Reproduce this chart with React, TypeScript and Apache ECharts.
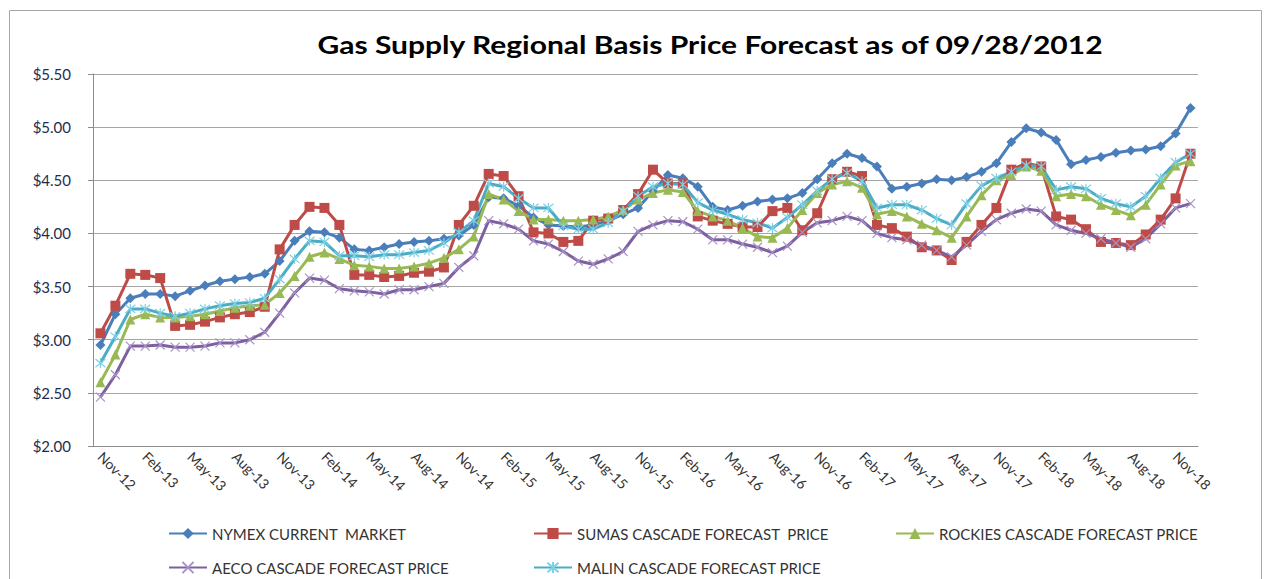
import React, { useEffect, useRef } from "react";
import * as echarts from "echarts";

const MONTHS = ["Jan", "Feb", "Mar", "Apr", "May", "Jun", "Jul", "Aug", "Sep", "Oct", "Nov", "Dec"];
// Nov-12 .. Dec-18 (74 months)
const categories: string[] = [];
for (let k = 0; k < 74; k++) {
  const m = (10 + k) % 12;
  const y = 12 + Math.floor((10 + k) / 12);
  categories.push(`${MONTHS[m]}-${y}`);
}

const nymex = [
  2.95, 3.24, 3.39, 3.43, 3.43, 3.41, 3.46, 3.51, 3.55, 3.57, 3.59, 3.62,
  3.74, 3.93, 4.02, 4.01, 3.96, 3.85, 3.84, 3.87, 3.9, 3.92, 3.93, 3.95,
  3.98, 4.08, 4.34, 4.33, 4.26, 4.15, 4.08, 4.07, 4.06, 4.08, 4.12, 4.18,
  4.24, 4.4, 4.55, 4.52, 4.44, 4.25, 4.22, 4.26, 4.3, 4.32, 4.33, 4.38,
  4.51, 4.66, 4.75, 4.71, 4.63, 4.42, 4.44, 4.47, 4.51, 4.5, 4.53, 4.58,
  4.66, 4.86, 4.99, 4.95, 4.88, 4.65, 4.69, 4.72, 4.76, 4.78, 4.79, 4.82,
  4.94, 5.18,
];
const sumas = [
  3.06, 3.32, 3.62, 3.61, 3.58, 3.13, 3.14, 3.17, 3.21, 3.24, 3.26, 3.31,
  3.85, 4.08, 4.25, 4.24, 4.08, 3.61, 3.61, 3.59, 3.6, 3.63, 3.64, 3.68,
  4.08, 4.26, 4.56, 4.54, 4.35, 4.01, 4.0, 3.92, 3.93, 4.12, 4.14, 4.22,
  4.37, 4.6, 4.47, 4.47, 4.16, 4.12, 4.09, 4.06, 4.06, 4.21, 4.24, 4.03,
  4.19, 4.51, 4.58, 4.54, 4.08, 4.05, 3.97, 3.87, 3.84, 3.75, 3.92, 4.08,
  4.24, 4.6, 4.66, 4.63, 4.16, 4.13, 4.04, 3.92, 3.91, 3.89, 3.99, 4.13,
  4.33, 4.75,
];
const rockies = [
  2.6, 2.86, 3.19, 3.24, 3.21, 3.21, 3.22, 3.24, 3.27, 3.3, 3.32, 3.33,
  3.44, 3.6, 3.78, 3.82, 3.76, 3.7, 3.69, 3.67, 3.67, 3.69, 3.72, 3.77,
  3.85, 3.97, 4.37, 4.32, 4.21, 4.13, 4.13, 4.12, 4.12, 4.13, 4.16, 4.22,
  4.32, 4.38, 4.41, 4.39, 4.21, 4.16, 4.12, 4.05, 3.97, 3.96, 4.05, 4.22,
  4.38, 4.46, 4.49, 4.43, 4.18, 4.21, 4.16, 4.09, 4.03, 3.96, 4.16, 4.36,
  4.5, 4.55, 4.63, 4.59, 4.35, 4.37, 4.35, 4.27, 4.22, 4.17, 4.27, 4.46,
  4.64, 4.68,
];
const aeco = [
  2.46, 2.67, 2.94, 2.94, 2.95, 2.93, 2.93, 2.94, 2.97, 2.97, 3.0, 3.07,
  3.25, 3.44, 3.58, 3.56, 3.48, 3.46, 3.45, 3.43, 3.47, 3.47, 3.5, 3.53,
  3.68, 3.79, 4.12, 4.09, 4.04, 3.93, 3.9, 3.83, 3.74, 3.71, 3.76, 3.83,
  4.02, 4.08, 4.12, 4.11, 4.04, 3.94, 3.94, 3.9, 3.87, 3.82, 3.88, 4.01,
  4.1, 4.12, 4.16, 4.12, 4.0, 3.96, 3.94, 3.89, 3.84, 3.78, 3.89, 4.02,
  4.13, 4.19, 4.23, 4.21, 4.08, 4.03, 4.0, 3.95, 3.91, 3.87, 3.95, 4.09,
  4.24, 4.28,
];
const malin = [
  2.78, 3.03, 3.29, 3.29, 3.25, 3.22, 3.25, 3.29, 3.32, 3.34, 3.35, 3.39,
  3.57, 3.76, 3.93, 3.92, 3.79, 3.79, 3.78, 3.8, 3.8, 3.82, 3.84, 3.91,
  4.01, 4.12, 4.47, 4.44, 4.33, 4.24, 4.24, 4.07, 4.04, 4.04, 4.1, 4.21,
  4.35, 4.44, 4.47, 4.46, 4.29, 4.22, 4.18, 4.13, 4.1, 4.05, 4.15, 4.27,
  4.4, 4.51, 4.57, 4.49, 4.24, 4.27, 4.27, 4.22, 4.14, 4.08, 4.28, 4.45,
  4.52, 4.58, 4.64, 4.63, 4.41, 4.44, 4.42, 4.33, 4.28, 4.25, 4.35, 4.52,
  4.67, 4.75,
];

const seriesNames = [
  "NYMEX CURRENT  MARKET",
  "SUMAS CASCADE FORECAST  PRICE",
  "ROCKIES CASCADE FORECAST PRICE",
  "AECO CASCADE FORECAST PRICE",
  "MALIN CASCADE FORECAST PRICE",
];
const TITLE = "Gas Supply Regional Basis Price Forecast as of 09/28/2012";

const FONT = "Lato, 'Open Sans', sans-serif";
const XMARK = "path://M0,0L10,10M10,0L0,10";
const STAR = "path://M0,0L10,10M10,0L0,10M5,-1L5,11";

export default function App() {
  const ref = useRef<HTMLDivElement>(null);
  useEffect(() => {
    if (!ref.current) return;
    const chart = echarts.init(ref.current, undefined, { renderer: "svg" });
    const mk = (
      name: string,
      data: number[],
      color: string,
      symbol: string,
      size: number,
      extra: any = {}
    ) => ({
      name,
      type: "line",
      data,
      symbol,
      symbolSize: size,
      showSymbol: true,
      showAllSymbol: true,
      lineStyle: { color, width: 3 },
      itemStyle: { color, ...extra },
      emphasis: { disabled: true },
    });
    const legendPos = [
      { left: 163, top: 526 },
      { left: 528, top: 526 },
      { left: 890, top: 526 },
      { left: 163, top: 560 },
      { left: 528, top: 560 },
    ];
    chart.setOption({
      animation: false,
      backgroundColor: "#ffffff",
      grid: { left: 93, right: 83, top: 74, bottom: 133, containLabel: false },
      legend: seriesNames.map((n, i) => ({
        data: [n],
        left: legendPos[i].left,
        top: legendPos[i].top,
        padding: [0, 5, 0, 5],
        itemWidth: 38,
        itemHeight: 14,
        selectedMode: false,
        textStyle: { fontFamily: FONT, fontSize: 15, color: "#333" },
      })),
      xAxis: {
        type: "category",
        data: categories,
        boundaryGap: true,
        axisLine: { lineStyle: { color: "#8c8c8c", width: 1 } },
        axisTick: { interval: 2, length: 5, lineStyle: { color: "#8c8c8c" } },
        axisLabel: {
          interval: 2,
          rotate: -45,
          margin: 8,
          fontFamily: FONT,
          fontSize: 14,
          color: "#333",
        },
        splitLine: { show: false },
      },
      yAxis: {
        type: "value",
        min: 2,
        max: 5.5,
        interval: 0.5,
        axisLine: { show: true, lineStyle: { color: "#8c8c8c", width: 1 } },
        axisTick: { show: true, length: 5, lineStyle: { color: "#8c8c8c" } },
        axisLabel: {
          margin: 22,
          fontFamily: FONT,
          fontSize: 15,
          color: "#1f2d4d",
          formatter: (v: number) => "$" + v.toFixed(2),
        },
        splitLine: { lineStyle: { color: "#a6a6a6", width: 1.2 } },
      },
      graphic: [
        {
          type: "rect",
          shape: { x: 9.5, y: 10.5, width: 1252, height: 600 },
          style: { fill: "none", stroke: "#a6a6a6", lineWidth: 1 },
          silent: true,
          z: -10,
        },
        {
          type: "text",
          x: 710,
          y: 44,
          scaleX: 1.2,
          silent: true,
          style: {
            text: TITLE,
            fontFamily: FONT,
            fontWeight: "bold",
            fontSize: 25,
            fill: "#000",
            align: "center",
            verticalAlign: "middle",
          },
        },
      ],
      series: [
        mk(seriesNames[0], nymex, "#4a7ebb", "diamond", 10),
        mk(seriesNames[1], sumas, "#be4b48", "rect", 10),
        mk(seriesNames[2], rockies, "#98b954", "triangle", 10),
        mk(seriesNames[3], aeco, "#7d60a0", XMARK, 9, {
          borderColor: "#a993c6",
          borderWidth: 1.2,
        }),
        mk(seriesNames[4], malin, "#4bacc6", STAR, 10, {
          borderColor: "#7fd0e3",
          borderWidth: 1.2,
        }),
      ],
    });
    return () => chart.dispose();
  }, []);
  return (
    <div
      ref={ref}
      style={{ position: "fixed", left: 0, top: 0, width: 1281, height: 579, background: "#fff" }}
    />
  );
}
